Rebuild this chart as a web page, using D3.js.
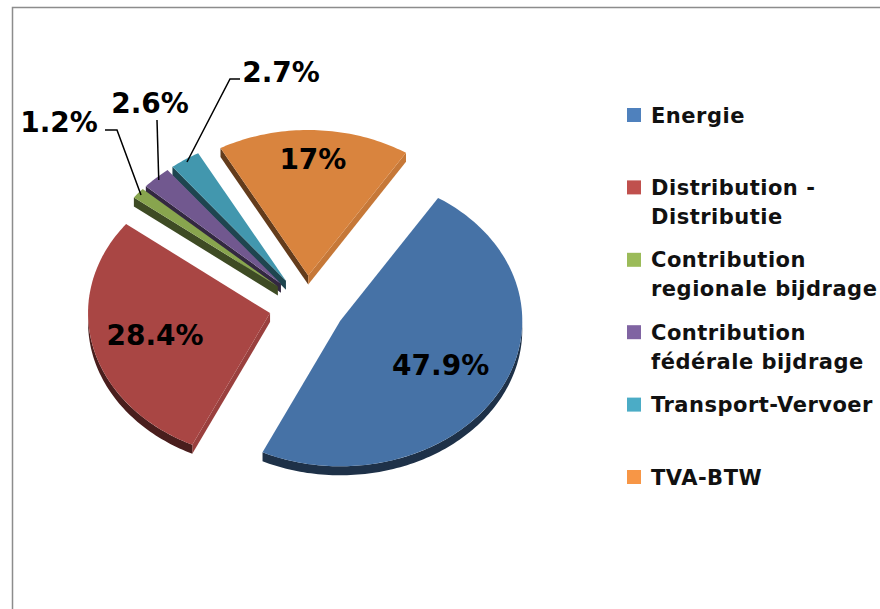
<!DOCTYPE html>
<html>
<head>
<meta charset="utf-8">
<script src="https://cdn.jsdelivr.net/npm/d3@7"></script>
<style>
  html, body { margin: 0; padding: 0; background: #fff; }
  svg { display: block; }
</style>
</head>
<body>
<div id="chart"></div>
<script>
const categories = ["Energie", "Distribution - Distributie", "Contribution regionale bijdrage",
  "Contribution fédérale bijdrage", "Transport-Vervoer", "TVA-BTW"];
const legendLines = [["Energie"], ["Distribution -", "Distributie"], ["Contribution", "regionale bijdrage"],
  ["Contribution", "fédérale bijdrage"], ["Transport-Vervoer"], ["TVA-BTW"]];
const values = [47.9, 28.4, 1.2, 2.6, 2.7, 17];
const palette = ["#4f81bd", "#c0504d", "#9bbb59", "#8064a2", "#4bacc6", "#f79646"];

const width = 880;
const height = 609;
const cx = 307, cy = 306;      // pie centre before the slices are pulled out
const R = 182;                 // radius
const tilt = 0.8;              // vertical squash of the 3d view
const depth = 9;               // thickness of the pie
const explode = 38;
const startDeg = 32.5;

// where each label sits: inside labels by radius fraction, outside ones by text position + leader
const insideR = { 0: 0.63, 1: 0.65, 5: 0.8 };
const outside = {
  2: { text: [59, 122], leader: [[105, 130], [117, 130]] },
  3: { text: [150, 103], leader: [[157, 120]] },
  4: { text: [281, 72], leader: [[240, 79], [230, 79]] }
};

const svg = d3.select("#chart").append("svg")
  .attr("width", width)
  .attr("height", height);

svg.append("rect").attr("width", width).attr("height", height).attr("fill", "#fff");

// chart area border (only left and top are in frame)
svg.append("path")
  .attr("d", `M12.5,${height} V7.5 H${width}`)
  .attr("fill", "none")
  .attr("stroke", "#8c8c8c")
  .attr("stroke-width", 1.5);

const start = startDeg * Math.PI / 180;
const pie = d3.pie().sort(null).startAngle(start).endAngle(start + 2 * Math.PI);
const arcs = pie(values).map((d, i) => ({ ...d, i, mid: (d.startAngle + d.endAngle) / 2 }));

const shade = (c, t) => d3.interpolateRgb(c, "#000")(t);

function pt(d, a, r, dz = 0) {
  const ox = explode * Math.sin(d.mid);
  const oy = -explode * Math.cos(d.mid) * tilt;
  return [cx + ox + r * Math.sin(a), cy + oy - r * Math.cos(a) * tilt + dz];
}

function arcPts(d, a0, a1, dz) {
  const n = Math.max(2, Math.ceil((a1 - a0) / 0.02));
  return d3.range(n + 1).map((k) => pt(d, a0 + (a1 - a0) * k / n, R, dz));
}

const line = d3.line();

// painter's order: back slices first
const order = arcs.slice().sort((a, b) => Math.cos(b.mid) - Math.cos(a.mid));

const g = svg.append("g");
order.forEach((d) => {
  const top = shade(palette[d.i], 0.12);
  const gs = g.append("g");
  const apex = pt(d, 0, 0);
  const apexB = pt(d, 0, 0, depth);

  // radial walls
  if (Math.sin(d.startAngle) < 0) {
    const nx = -Math.cos(d.startAngle);
    const o = pt(d, d.startAngle, R);
    gs.append("path")
      .attr("d", line([apex, o, [o[0], o[1] + depth], apexB]) + "Z")
      .attr("fill", shade(palette[d.i], nx > 0 ? 0.2 : 0.6));
  }
  if (Math.sin(d.endAngle) > 0) {
    const nx = Math.cos(d.endAngle);
    const o = pt(d, d.endAngle, R);
    gs.append("path")
      .attr("d", line([apex, o, [o[0], o[1] + depth], apexB]) + "Z")
      .attr("fill", shade(palette[d.i], nx > 0 ? 0.2 : 0.6));
  }

  // outer wall, only the part facing the viewer
  [[Math.PI / 2, 3 * Math.PI / 2], [Math.PI / 2 + 2 * Math.PI, 3 * Math.PI / 2 + 2 * Math.PI]].forEach(([lo, hi]) => {
    const a0 = Math.max(lo, d.startAngle);
    const a1 = Math.min(hi, d.endAngle);
    if (a1 <= a0) return;
    const upper = arcPts(d, a0, a1, 0);
    const lower = arcPts(d, a0, a1, depth).reverse();
    gs.append("path")
      .attr("d", line(upper.concat(lower)) + "Z")
      .attr("fill", shade(palette[d.i], 0.62));
  });

  // top face
  gs.append("path")
    .attr("d", line([apex].concat(arcPts(d, d.startAngle, d.endAngle, 0))) + "Z")
    .attr("fill", top);
});

// data labels
const labelFont = "'DejaVu Sans', Verdana, sans-serif";
arcs.forEach((d) => {
  const txt = values[d.i] + "%";
  let p;
  if (insideR[d.i] !== undefined) {
    p = pt(d, d.mid, R * insideR[d.i]);
  } else {
    const o = outside[d.i];
    p = o.text;
    const end = pt(d, d.mid, R * 0.98);
    svg.append("path")
      .attr("d", line([end].concat(o.leader.slice().reverse())))
      .attr("fill", "none")
      .attr("stroke", "#000")
      .attr("stroke-width", 1.5);
  }
  svg.append("text")
    .attr("x", p[0])
    .attr("y", p[1])
    .attr("dy", "0.36em")
    .attr("text-anchor", "middle")
    .attr("font-family", labelFont)
    .attr("font-weight", "bold")
    .attr("font-size", 28)
    .attr("fill", "#000")
    .text(txt);
});

// legend
const ly = d3.scaleLinear().domain([0, categories.length - 1]).range([115, 477]);
const legend = svg.append("g");
categories.forEach((c, i) => {
  const y = ly(i);
  legend.append("rect")
    .attr("x", 627)
    .attr("y", y - 7)
    .attr("width", 14)
    .attr("height", 14)
    .attr("fill", palette[i]);
  const t = legend.append("text")
    .attr("x", 651)
    .attr("y", y)
    .attr("font-family", labelFont)
    .attr("font-weight", "bold")
    .attr("font-size", 21)
    .attr("letter-spacing", 0.5)
    .attr("fill", "#111");
  legendLines[i].forEach((s, j) => {
    t.append("tspan")
      .attr("x", 651)
      .attr("y", y + j * 29)
      .attr("dy", "0.36em")
      .text(s);
  });
});
</script>
</body>
</html>
